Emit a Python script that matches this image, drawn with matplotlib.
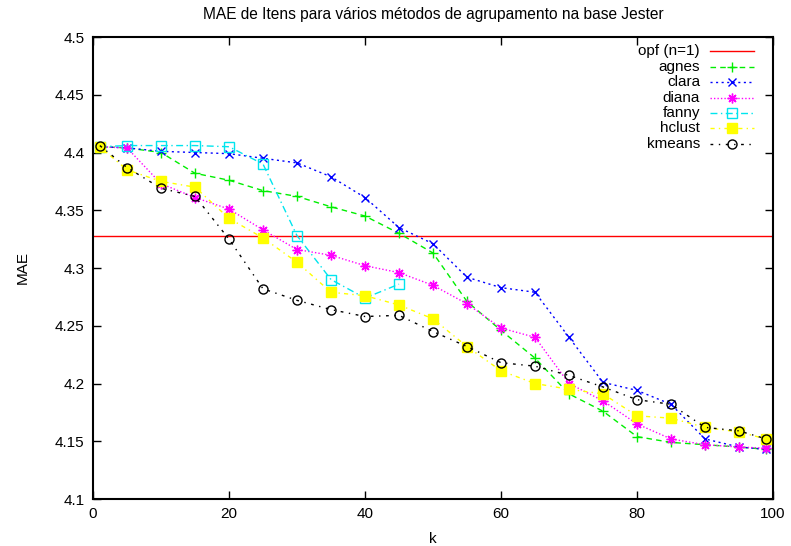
import matplotlib
matplotlib.use("Agg")
import matplotlib.pyplot as plt
from matplotlib.ticker import FuncFormatter

plt.rcParams['font.family'] = ['Liberation Sans', 'DejaVu Sans']

k = [1, 5, 10, 15, 20, 25, 30, 35, 40, 45, 50, 55, 60, 65, 70, 75, 80, 85, 90, 95, 99]
k_fanny = [1, 5, 10, 15, 20, 25, 30, 35, 40, 45]

opf = 4.328
agnes = [4.405, 4.404, 4.400, 4.382, 4.376, 4.367, 4.362, 4.353, 4.345, 4.330, 4.313,
         4.271, 4.246, 4.222, 4.191, 4.176, 4.154, 4.149, 4.147, 4.145, 4.143]
clara = [4.405, 4.404, 4.401, 4.400, 4.399, 4.395, 4.391, 4.379, 4.361, 4.335, 4.321,
         4.292, 4.283, 4.279, 4.240, 4.201, 4.194, 4.182, 4.152, 4.145, 4.143]
diana = [4.405, 4.404, 4.373, 4.361, 4.351, 4.333, 4.316, 4.311, 4.302, 4.296, 4.285,
         4.269, 4.248, 4.240, 4.200, 4.185, 4.165, 4.152, 4.147, 4.145, 4.144]
fanny = [4.405, 4.406, 4.406, 4.406, 4.405, 4.390, 4.328, 4.290, 4.274, 4.286]
hclust = [4.405, 4.385, 4.375, 4.370, 4.343, 4.326, 4.305, 4.279, 4.276, 4.268, 4.256,
          4.232, 4.211, 4.200, 4.195, 4.191, 4.172, 4.170, 4.162, 4.158, 4.152]
kmeans = [4.406, 4.387, 4.369, 4.362, 4.325, 4.282, 4.272, 4.264, 4.258, 4.259, 4.245,
          4.232, 4.218, 4.215, 4.207, 4.197, 4.186, 4.182, 4.162, 4.159, 4.152]

labels = ['opf (n=1)', 'agnes', 'clara', 'diana', 'fanny', 'hclust', 'kmeans']

fig = plt.figure(figsize=(7.91, 5.46), dpi=100)
ax = fig.add_axes([93/791, 1 - 499/546, (773 - 93)/791, (499 - 37)/546])

lw = 1.0
styles = {
    'agnes': dict(color='#00ee00', ls=(0, (4, 3)), marker='+', ms=7.5, mew=1.0),
    'clara': dict(color='#0000ff', ls=(0, (1.5, 2.5)), marker='x', ms=6, mew=1.0),
    'diana': dict(color='#ff00ff', ls=(0, (1, 1.5)), marker=(8, 2, 0), ms=7, mew=1.0),
    'fanny': dict(color='#00e5ee', ls=(0, (5, 2.5, 1, 2.5)), marker='s', ms=6.5, mew=1.0, mfc='none'),
    'hclust': dict(color='#ffff00', ls=(0, (3, 3, 1, 3)), marker='s', ms=6.5, mew=1.0),
    'kmeans': dict(color='#000000', ls=(0, (2, 4, 1, 4)), marker='o', ms=6.5, mew=1.0, mfc='none'),
}

ax.axhline(opf, color='#ff0000', lw=1.0, zorder=2)
ax.plot(k, agnes, lw=lw, zorder=3, **styles['agnes'])
ax.plot(k, clara, lw=lw, zorder=3, **styles['clara'])
ax.plot(k, diana, lw=lw, zorder=3, **styles['diana'])
ax.plot(k_fanny, fanny, lw=lw, zorder=3, **styles['fanny'])
ax.plot(k, hclust, lw=lw, zorder=3, **styles['hclust'])
ax.plot(k, kmeans, lw=lw, zorder=3, **styles['kmeans'])

ax.set_xlim(0, 100)
ax.set_ylim(4.1, 4.5)
ax.set_xticks([0, 20, 40, 60, 80, 100])
ax.set_yticks([4.1, 4.15, 4.2, 4.25, 4.3, 4.35, 4.4, 4.45, 4.5])
ax.yaxis.set_major_formatter(FuncFormatter(lambda v, p: ('%.2f' % v).rstrip('0').rstrip('.')))
ax.tick_params(direction='in', length=6, width=1.0, top=True, right=True, labelsize=11, pad=6, colors='black')
for s in ax.spines.values():
    s.set_linewidth(1.5)
ax.set_xlabel('k', fontsize=11, labelpad=8)
ax.set_ylabel('MAE', fontsize=11, labelpad=18)
ax.set_title('MAE de Itens para vários métodos de agrupamento na base Jester', fontsize=11.2, pad=13)

# gnuplot-style legend: right-aligned text, sample line to the right
leg_y0 = 51.3
dy = 15.4
lx0, lx1, lxm, tx = 710, 754, 732, 700
entries = [('opf (n=1)', dict(color='#ff0000', ls='-'))] + [(n, styles[n]) for n in labels[1:]]
for i, (name, st) in enumerate(entries):
    ypix = leg_y0 + i * dy
    yf = 1 - ypix / 546
    st = dict(st)
    mk = st.pop('marker', None)
    ms = st.pop('ms', None)
    mew = st.pop('mew', None)
    mfc = st.pop('mfc', None)
    fig.add_artist(plt.Line2D([lx0 / 791, lx1 / 791], [yf, yf], lw=1.0, transform=fig.transFigure, **st))
    if mk is not None:
        kw = dict(marker=mk, ms=ms, mew=mew, color=st['color'], ls='none', transform=fig.transFigure)
        if mfc is not None:
            kw['mfc'] = mfc
        fig.add_artist(plt.Line2D([lxm / 791], [yf], **kw))
    fig.text(tx / 791, yf, name, ha='right', va='center', fontsize=11)

fig.savefig('out.png', dpi=100)
